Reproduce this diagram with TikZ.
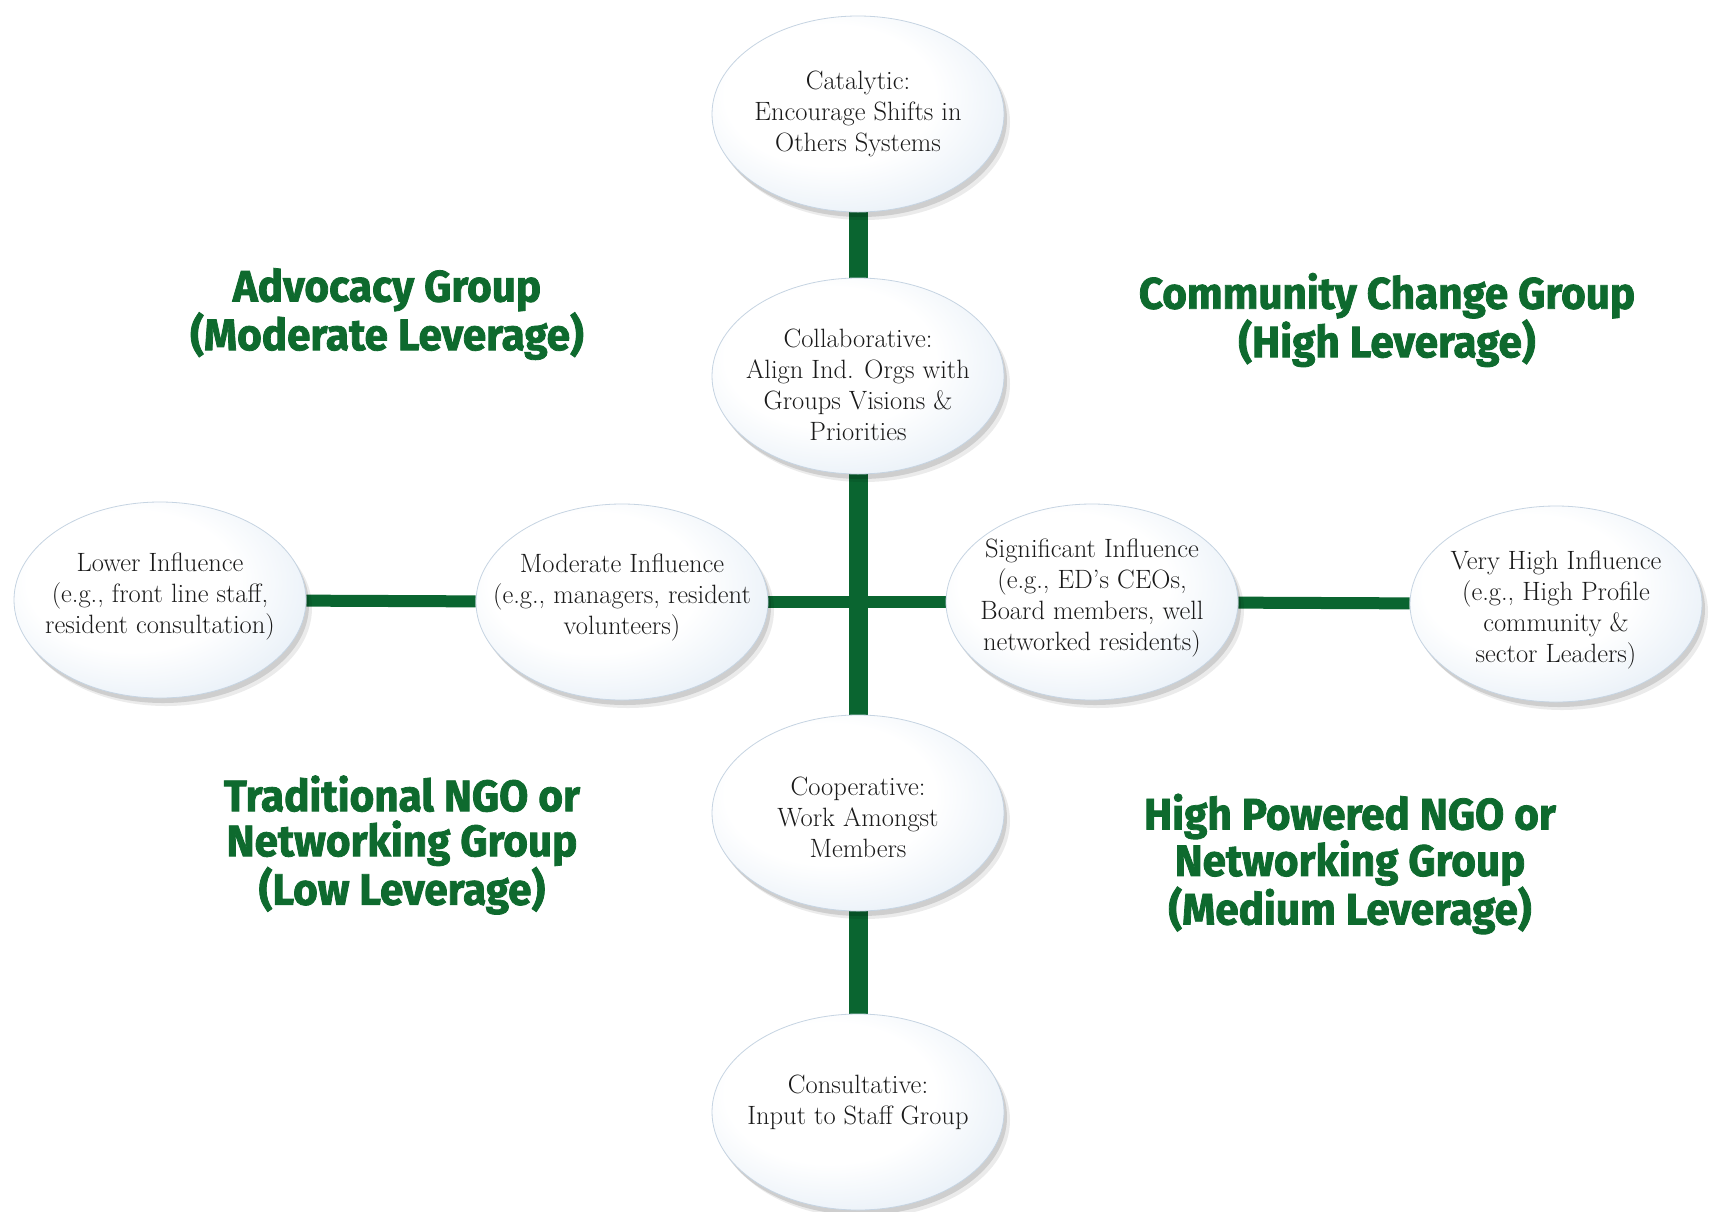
\documentclass[tikz,border=0pt]{standalone}
\usepackage{fontspec}
\usetikzlibrary{shapes.geometric,shadows,backgrounds}
\newfontfamily\grpfont{Fira Sans}[FakeStretch=0.96, FakeBold=1.8]
\definecolor{lgreen}{HTML}{0A6530}
\definecolor{tgreen}{HTML}{0E6A2E}
\definecolor{eblue}{HTML}{CCDDEE}
\definecolor{eedge}{HTML}{C6D4E2}
\definecolor{etext}{HTML}{1A1A1A}
\pgfdeclareradialshading{ellshade}{\pgfpoint{-6bp}{6bp}}{color(0bp)=(white); color(18bp)=(white); color(50bp)=(eblue); color(90bp)=(eblue)}
\tikzset{
  ell/.style={ellipse, minimum width=292pt, minimum height=196pt, inner sep=0pt,
    shade, shading=ellshade, draw=eedge, line width=0.8pt,
    drop shadow={shadow xshift=6pt, shadow yshift=-8pt, opacity=0.08, fill=black},
    drop shadow={shadow xshift=3pt, shadow yshift=-5pt, opacity=0.12, fill=black}},
  etxt/.style={align=center, inner sep=0pt, text=etext,
    font=\fontsize{26.5}{31}\selectfont},
  vline/.style={draw=lgreen, line width=19pt},
  hline/.style={draw=lgreen, line width=12pt},
  grp/.style={align=center, inner sep=0pt, text=tgreen,
    font=\grpfont\bfseries\fontsize{44}{45}\selectfont}
}
\begin{document}
\begin{tikzpicture}[x=1pt, y=-1pt]
\useasboundingbox (0,0) rectangle (1713,1211);

% ellipses
\node[ell, label={[etxt, yshift=0pt]center:{Catalytic:\\Encourage Shifts in\\Others Systems}}] (cat) at (858,114) {};
\node[ell, label={[etxt, yshift=-9pt]center:{Collaborative:\\Align Ind. Orgs with\\Groups Visions \&\\Priorities}}] (col) at (858,376) {};
\node[ell, label={[etxt, yshift=-4pt]center:{Cooperative:\\Work Amongst\\Members}}] (coop) at (858,813) {};
\node[ell, label={[etxt, yshift=10pt]center:{Consultative:\\Input to Staff Group}}] (cons) at (858,1112) {};
\node[ell, label={[etxt, yshift=4pt]center:{Lower Influence\\(e.g., front line staff,\\resident consultation)}}] (low) at (160,600) {};
\node[ell, label={[etxt, yshift=5pt]center:{Moderate Influence\\(e.g., managers, resident\\volunteers)}}] (mod) at (622,602) {};
\node[ell, label={[etxt, yshift=4.5pt]center:{Significant Influence\\(e.g., ED’s CEOs,\\Board members, well\\networked residents)}}] (sig) at (1092,602) {};
\node[ell, label={[etxt, yshift=-5.5pt]center:{Very High Influence\\(e.g., High Profile\\community \&\\sector Leaders)}}] (vhi) at (1556,604) {};

% group labels
\node[grp] (adv) at (387,314) {Advocacy Group\\(Moderate Leverage)};
\node[grp] (ccg) at (1387,320) {Community Change Group\\(High Leverage)};
\node[grp] (tng) at (402,845) {Traditional NGO or\\Networking Group\\(Low Leverage)};
\node[grp] (hpn) at (1350,864) {High Powered NGO or\\Networking Group\\(Medium Leverage)};

\begin{scope}[on background layer]
  \fill[white] (0,0) rectangle (1713,1211);
  \draw[hline] (low) -- (mod);
  \draw[hline] (mod) -- (sig);
  \draw[hline] (sig) -- (vhi);
  \draw[vline] (cat) -- (col);
  \draw[vline] (col) -- (coop);
  \draw[vline] (coop) -- (cons);
\end{scope}
\end{tikzpicture}
\end{document}
